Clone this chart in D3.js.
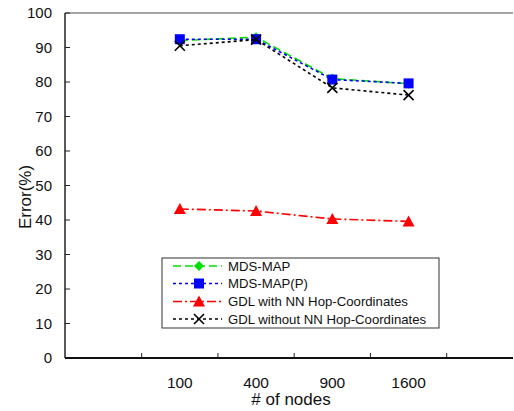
<!DOCTYPE html>
<html><head><meta charset="utf-8">
<script src="https://cdn.jsdelivr.net/npm/d3@7"></script>
<style>body{margin:0;background:#fff;} svg{display:block;font-family:"Liberation Sans",Arial,sans-serif;}</style>
</head><body>
<svg id="c" width="514" height="411"></svg>
<script>
const categories = ["100","400","900","1600"];
const mdsMap  = [92.0, 93.0, 81.0, 79.5];
const mdsMapP = [92.4, 92.4, 80.7, 79.6];
const gdlNN   = [43.2, 42.6, 40.3, 39.6];
const gdlNoNN = [90.5, 92.3, 78.3, 76.2];
const yTicks = [0,10,20,30,40,50,60,70,80,90,100];
const seriesNames = ["MDS-MAP","MDS-MAP(P)","GDL with NN Hop-Coordinates","GDL without NN Hop-Coordinates"];

const svg = d3.select("#c");
const L = 65, R = 513, T = 13, B = 358;
const x = d3.scaleBand().domain(categories).range([141.7, 446.7]);
const y = d3.scaleLinear().domain([0,100]).range([B, T]);
const cx = c => x(c) + x.bandwidth()/2;

svg.append("line").attr("x1",L).attr("x2",R).attr("y1",T).attr("y2",T).attr("stroke","#888").attr("stroke-width",1.5);

svg.append("line").attr("x1",L).attr("x2",L).attr("y1",T).attr("y2",B).attr("stroke","#222").attr("stroke-width",1.5);
yTicks.forEach(t=>{
  svg.append("line").attr("x1",L).attr("x2",L+5).attr("y1",y(t)).attr("y2",y(t)).attr("stroke","#222").attr("stroke-width",1);
  svg.append("text").attr("x",52).attr("y",y(t)).attr("dy","0.36em").attr("text-anchor","end").attr("font-size",15).attr("fill","#111").text(t);
});
svg.append("line").attr("x1",L).attr("x2",R).attr("y1",B).attr("y2",B).attr("stroke","#111").attr("stroke-width",2);
const bounds = categories.map(c=>x(c)).concat([x(categories[categories.length-1])+x.bandwidth()]);
bounds.forEach(b=>{
  svg.append("line").attr("x1",b).attr("x2",b).attr("y1",B).attr("y2",B-5).attr("stroke","#222").attr("stroke-width",1);
});
categories.forEach(c=>{
  svg.append("text").attr("x",cx(c)).attr("y",382).attr("dy","0.36em").attr("text-anchor","middle").attr("font-size",15.5).attr("fill","#111").text(c);
});
svg.append("text").attr("x",291).attr("y",405).attr("text-anchor","middle").attr("font-size",17).attr("fill","#111").text("# of nodes");
svg.append("text").attr("transform","translate(25,197) rotate(-90)").attr("dy","0.36em").attr("text-anchor","middle").attr("font-size",17).attr("fill","#111").text("Error(%)");

const styles = [
  {data: mdsMap, color:"#00e000", dash:"8,4", marker:"diamond"},
  {data: mdsMapP, color:"#0000ff", dash:"3,3", marker:"square"},
  {data: gdlNN, color:"#ff0000", dash:"9,3,2,3", marker:"triangle"},
  {data: gdlNoNN, color:"#000000", dash:"3,3", marker:"x"}
];
const line = d3.line().x((d,i)=>cx(categories[i])).y(d=>y(d));

function drawMarker(g, type, px, py, color){
  if(type==="diamond"){
    g.append("path").attr("d",`M${px},${py-5}L${px+5},${py}L${px},${py+5}L${px-5},${py}Z`).attr("fill",color);
  } else if(type==="square"){
    g.append("rect").attr("x",px-5).attr("y",py-5).attr("width",10).attr("height",10).attr("fill",color);
  } else if(type==="triangle"){
    g.append("path").attr("d",`M${px},${py-6}L${px+6},${py+5}L${px-6},${py+5}Z`).attr("fill",color);
  } else {
    g.append("path").attr("d",`M${px-5},${py-5}L${px+5},${py+5}M${px+5},${py-5}L${px-5},${py+5}`).attr("stroke",color).attr("stroke-width",1.6);
  }
}

styles.forEach(s=>{
  const g = svg.append("g");
  g.append("path").datum(s.data).attr("d",line).attr("fill","none").attr("stroke",s.color).attr("stroke-width",1.6).attr("stroke-dasharray",s.dash);
  s.data.forEach((v,i)=>drawMarker(g, s.marker, cx(categories[i]), y(v), s.color));
});

const lg = svg.append("g");
lg.append("rect").attr("x",162).attr("y",258).attr("width",277).attr("height",70).attr("fill","#fff").attr("stroke","#333").attr("stroke-width",1);
const rowsY = [266, 283.5, 301.5, 319];
styles.forEach((s,i)=>{
  const yy = rowsY[i];
  lg.append("line").attr("x1",173).attr("x2",222).attr("y1",yy).attr("y2",yy).attr("stroke",s.color).attr("stroke-width",1.6).attr("stroke-dasharray",s.dash);
  drawMarker(lg, s.marker, 199, yy, s.color);
  lg.append("text").attr("x",228).attr("y",yy).attr("dy","0.36em").attr("font-size",13.2).attr("fill","#111").text(seriesNames[i]);
});
</script>
</body></html>
